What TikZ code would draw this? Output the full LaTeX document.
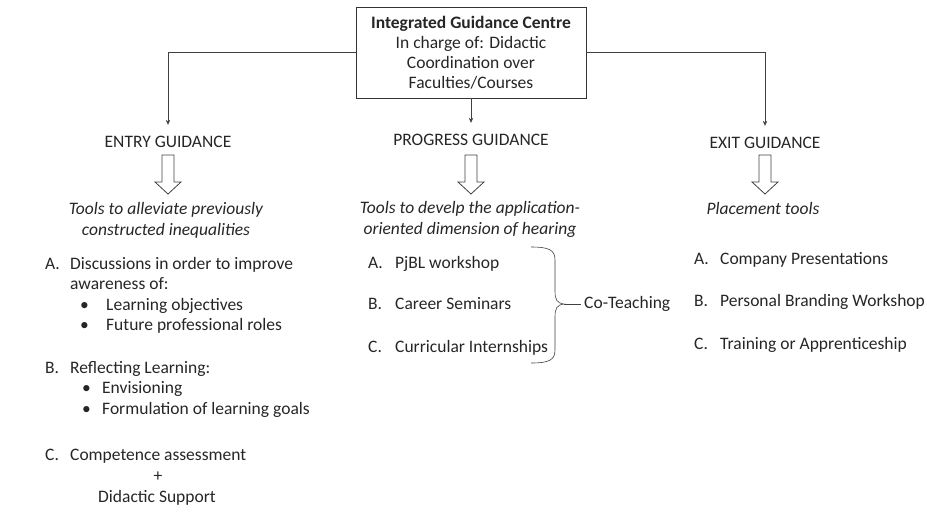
\documentclass[tikz,border=0pt]{standalone}
\usepackage{fontspec}
\setmainfont{Carlito}
\usetikzlibrary{arrows.meta, positioning}

% label box for the lettered items
\newcommand{\lab}[2][25pt]{\makebox[#1][l]{#2}}

\begin{document}
\begin{tikzpicture}[
    x=1pt, y=-1pt,
    font=\fontsize{17.5}{20.5}\selectfont,
    hub/.style={rectangle, draw=black!80, line width=0.8pt, align=center, minimum width=230pt, minimum height=91pt, inner sep=2pt, text=black!85, font=\fontsize{17.5}{20}\selectfont},
    phase/.style={inner sep=0pt, text height=12pt, text depth=4pt, text=black!85},
    aim/.style={align=center, inner sep=0pt, text=black!85, font=\fontsize{17.5}{21}\selectfont\itshape},
    point/.style={align=left, inner sep=0pt, text=black!85},
    arrow/.style={-{Stealth[length=5pt, width=4.5pt]}, line width=0.6pt, draw=black!75, shorten >=10pt},
    link/.style={line width=0.6pt, draw=black!75},
    hollow/.pic={\draw[line width=0.8pt, draw=black!75] (-6,0) -- (6,0) -- (6,27) -- (13,27) -- (0,39) -- (-13,27) -- (-6,27) -- cycle;}
]
\useasboundingbox (0,0) rectangle (927,520);

\node[hub] (hub) at (471,52.5) {\textbf{Integrated Guidance Centre}\\In charge of: Didactic\\Coordination over\\Faculties/Courses};

\node[phase, anchor=base] (entryhd) at (168,147) {ENTRY GUIDANCE};
\node[phase, anchor=base] (proghd) at (471,145) {PROGRESS GUIDANCE};
\node[phase, anchor=base] (exithd) at (765,148) {EXIT GUIDANCE};

\pic at (168,155) {hollow};
\pic at (471,155) {hollow};
\pic at (765,155) {hollow};

% base of a multi-line node is its last line
\node[aim, anchor=base] (entryaim) at (166,235) {Tools to alleviate previously\\constructed inequalities};
\node[aim, anchor=base] (progaim) at (470,234) {Tools to develp the application-\\oriented dimension of hearing};
\node[aim, anchor=base] (exitaim) at (763,214) {Placement tools};

% entry guidance tools
\node[point, anchor=base west] (entA) at (45,330.5) {\lab{A.}Discussions in order to improve\\
    \hspace*{25pt}awareness of:\\
    \hspace*{35pt}\lab[26pt]{•}Learning objectives\\
    \hspace*{35pt}\lab[26pt]{•}Future professional roles};
\node[point, anchor=base west] (entB) at (45,414) {\lab{B.}Reflecting Learning:\\
    \hspace*{37pt}\lab[20pt]{•}Envisioning\\
    \hspace*{37pt}\lab[20pt]{•}Formulation of learning goals};
\node[point, anchor=base west] (entC) at (45,460) {\lab{C.}Competence assessment};
\node[point, anchor=base] (plus) at (158,481) {+};
\node[point, anchor=base] (didsup) at (157,502) {Didactic Support};

% progress guidance tools
\node[point, anchor=base west] (progA) at (368,268) {\lab[27pt]{A.}PjBL workshop};
\node[point, anchor=base west] (progB) at (368,309) {\lab[27pt]{B.}Career Seminars};
\node[point, anchor=base west] (progC) at (368,352) {\lab[27pt]{C.}Curricular Internships};
\node[point, anchor=base west] (coteach) at (584,308) {Co-Teaching};

% exit guidance tools
\node[point, anchor=base west] (exitA) at (694,264) {\lab[26pt]{A.}Company Presentations};
\node[point, anchor=base west] (exitB) at (694,306) {\lab[26pt]{B.}Personal Branding Workshop};
\node[point, anchor=base west] (exitC) at (694,349) {\lab[26pt]{C.}Training or Apprenticeship};

\draw[arrow] (hub.west) -| (entryhd.north);
\draw[arrow] (hub.south) -- (proghd.north);
\draw[arrow] (hub.east) -| (exithd.north);

% brace round the progress items
\draw[link] (531,247) .. controls (549,247) and (555,250) .. (555,260) -- (555,291)
    .. controls (555,300) and (557,303) .. (564,304) coordinate (bracetip)
    .. controls (557,305) and (555,308) .. (555,317) -- (555,350)
    .. controls (555,360) and (549,363) .. (531,363);
\draw[link, shorten >=3pt] (bracetip) -- (bracetip -| coteach.west);
\end{tikzpicture}
\end{document}
